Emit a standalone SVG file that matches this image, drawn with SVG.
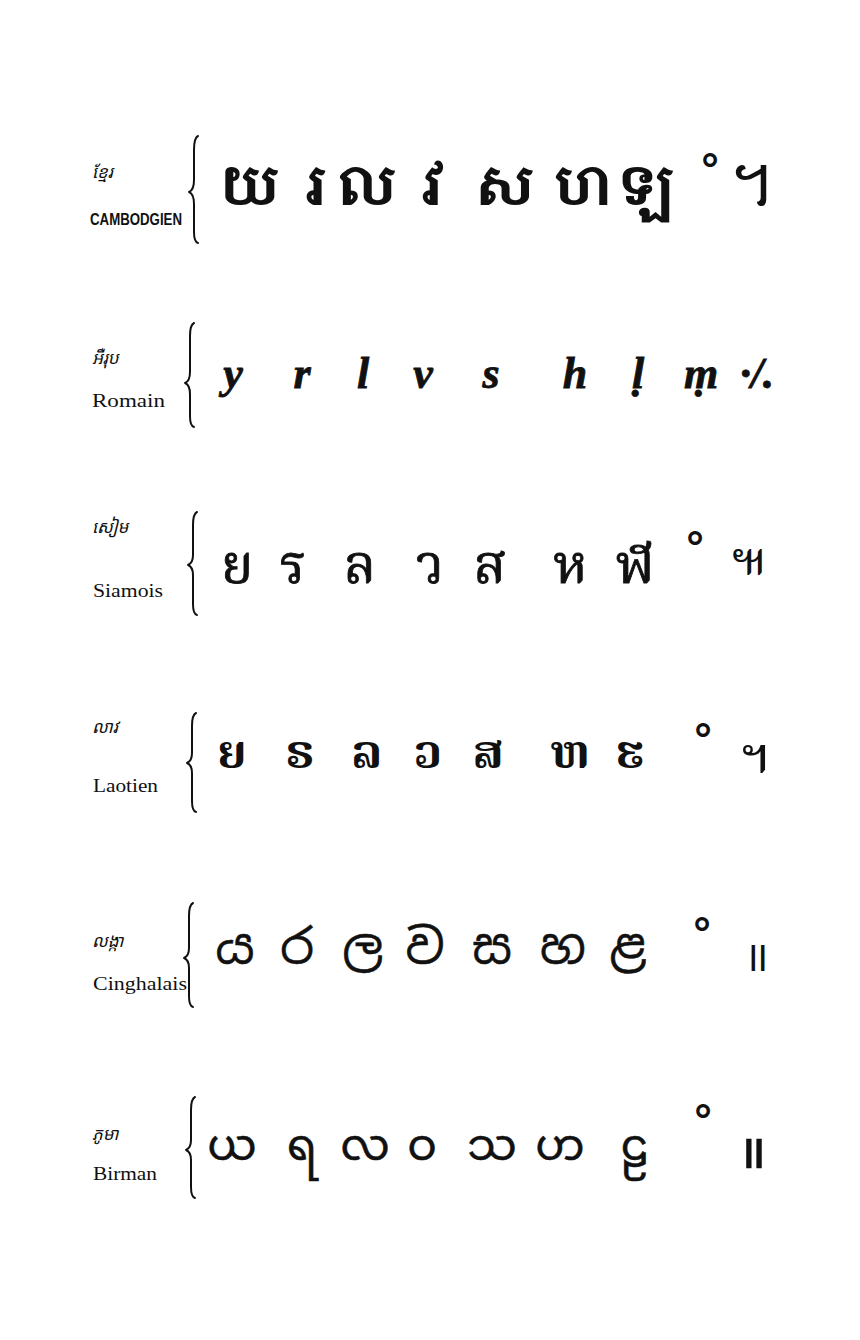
<svg xmlns="http://www.w3.org/2000/svg" width="860" height="1340" viewBox="0 0 860 1340">
<style>
.bg{fill:#ffffff}
.br{fill:none;stroke:#111;stroke-width:2;stroke-linecap:round;stroke-linejoin:round}
.lk{font-family:"Noto Sans Khmer","Noto Sans","DejaVu Sans",sans-serif;font-size:17px;fill:#111;font-style:italic}
.ln{font-family:"Liberation Serif",serif;font-size:19px;fill:#111}
.cap{font-family:"Liberation Sans Narrow","Liberation Sans",sans-serif;font-size:16px;fill:#111;font-weight:bold}
.kh{font-family:"Noto Serif Khmer","Noto Sans Khmer","Noto Sans","DejaVu Sans",sans-serif;font-size:56px;fill:#111;text-anchor:middle;font-weight:bold}
.ro{font-family:"Liberation Serif",serif;font-size:44px;font-style:italic;font-weight:bold;fill:#111;stroke:#111;stroke-width:0.8;text-anchor:middle}
.th{font-family:"Noto Serif Thai","Noto Sans Thai Looped","Noto Sans Thai","Noto Sans",sans-serif;font-size:54px;fill:#111;stroke:#111;stroke-width:0.8;text-anchor:middle}
.lo{font-family:"Noto Serif Lao","Noto Sans Lao Looped","Noto Sans Lao","DejaVu Sans",sans-serif;font-size:46px;fill:#111;text-anchor:middle;font-weight:bold}
.si{font-family:"Noto Sans Sinhala","Noto Serif Sinhala","Noto Sans","DejaVu Sans",sans-serif;font-size:48px;fill:#111;stroke:#111;stroke-width:0.5;text-anchor:middle}
.my{font-family:"Noto Sans Myanmar","Noto Serif Myanmar","Padauk","Noto Sans","DejaVu Sans",sans-serif;font-size:44px;fill:#111;stroke:#111;stroke-width:0.5;text-anchor:middle}
.dg{font-family:"Liberation Sans",sans-serif;font-size:44px;font-weight:bold;fill:#111;text-anchor:middle}
.pd{font-family:"Noto Sans","DejaVu Sans",sans-serif;font-size:42px;fill:#111;text-anchor:middle}
</style>
<rect class="bg" x="0" y="0" width="860" height="1340"/>

<g id="row-cambodgien">
<text class="lk" x="92" y="178">ខ្មែរ</text>
<text class="cap" x="90" y="225" textLength="92" lengthAdjust="spacingAndGlyphs">CAMBODGIEN</text>
<path class="br" d="M198,136 Q194,138 194,150 L194,180 Q194,190 189,192 Q194,194 194,204 L194,232 Q194,242 198,243"/>
<text class="kh" x="250" y="205">យ</text>
<text class="kh" x="315" y="205">រ</text>
<text class="kh" x="367" y="205">ល</text>
<text class="kh" x="432" y="205">វ</text>
<text class="kh" x="505" y="205">ស</text>
<text class="kh" x="583" y="205">ហ</text>
<text class="kh" x="648" y="205">ឡ</text>
<text class="dg" x="710" y="184">°</text>
<text class="kh" x="751" y="206" style="font-weight:normal;font-size:60px">។</text>
</g>

<g id="row-romain">
<text class="lk" x="92" y="364">អឺរុប</text>
<text class="ln" x="92" y="407" textLength="73" lengthAdjust="spacingAndGlyphs">Romain</text>
<path class="br" d="M194,323 Q190,325 190,336 L190,372 Q190,381 185,383 Q190,385 190,394 L190,416 Q190,426 194,427"/>
<text class="ro" x="233" y="388">y</text>
<text class="ro" x="302" y="388">r</text>
<text class="ro" x="363" y="388">l</text>
<text class="ro" x="423" y="388">v</text>
<text class="ro" x="491" y="388">s</text>
<text class="ro" x="575" y="388">h</text>
<text class="ro" x="638" y="388">ḷ</text>
<text class="ro" x="701" y="388">ṃ</text>
<text class="ro" x="757" y="388">·/.</text>
</g>

<g id="row-siamois">
<text class="lk" x="92" y="533">សៀម</text>
<text class="ln" x="93" y="597" textLength="70" lengthAdjust="spacingAndGlyphs">Siamois</text>
<path class="br" d="M197,512 Q193,514 193,525 L193,555 Q193,563 188,565 Q193,567 193,575 L193,604 Q193,614 197,615"/>
<text class="th" x="237" y="583">ย</text>
<text class="th" x="293" y="583">ร</text>
<text class="th" x="360" y="583">ล</text>
<text class="th" x="430" y="583">ว</text>
<text class="th" x="490" y="583">ส</text>
<text class="th" x="570" y="583">ห</text>
<text class="th" x="635" y="583">ฬ</text>
<text class="dg" x="695" y="562">°</text>
<text class="th" x="749" y="575" style="font-size:46px;stroke-width:0">๚</text>
</g>

<g id="row-laotien">
<text class="lk" x="92" y="733">លាវ</text>
<text class="ln" x="93" y="792" textLength="65" lengthAdjust="spacingAndGlyphs">Laotien</text>
<path class="br" d="M196,713 Q192,715 192,726 L192,753 Q192,761 187,763 Q192,765 192,773 L192,801 Q192,811 196,812"/>
<text class="lo" x="232" y="768">ຍ</text>
<text class="lo" x="300" y="768">ຣ</text>
<text class="lo" x="367" y="768">ລ</text>
<text class="lo" x="428" y="768">ວ</text>
<text class="lo" x="488" y="768">ສ</text>
<text class="lo" x="570" y="768">ຫ</text>
<text class="lo" x="630" y="768">ຬ</text>
<text class="dg" x="703" y="754">°</text>
<text class="lo" x="755" y="773" style="font-weight:normal;font-size:50px">ຯ</text>
</g>

<g id="row-cinghalais">
<text class="lk" x="92" y="947">លង្កា</text>
<text class="ln" x="93" y="990" textLength="94" lengthAdjust="spacingAndGlyphs">Cinghalais</text>
<path class="br" d="M193,903 Q189,905 189,916 L189,948 Q189,956 184,958 Q189,960 189,968 L189,996 Q189,1006 193,1007"/>
<text class="si" x="235" y="963">ය</text>
<text class="si" x="297" y="963">ර</text>
<text class="si" x="363" y="963">ල</text>
<text class="si" x="425" y="963">ව</text>
<text class="si" x="492" y="963">ස</text>
<text class="si" x="563" y="963">හ</text>
<text class="si" x="628" y="963">ළ</text>
<text class="dg" x="702" y="948">°</text>
<text class="pd" x="756" y="971">॥</text>
</g>

<g id="row-birman">
<text class="lk" x="92" y="1140">ភូមា</text>
<text class="ln" x="93" y="1180" textLength="64" lengthAdjust="spacingAndGlyphs">Birman</text>
<path class="br" d="M195,1097 Q191,1099 191,1110 L191,1140 Q191,1148 186,1150 Q191,1152 191,1160 L191,1187 Q191,1197 195,1198"/>
<text class="my" x="232" y="1160">ယ</text>
<text class="my" x="302" y="1160">ရ</text>
<text class="my" x="365" y="1160">လ</text>
<text class="my" x="422" y="1160">ဝ</text>
<text class="my" x="492" y="1160">သ</text>
<text class="my" x="560" y="1160">ဟ</text>
<text class="my" x="635" y="1160">ဠ</text>
<text class="dg" x="703" y="1135">°</text>
<text class="my" x="754" y="1168" style="font-size:54px">။</text>
</g>
</svg>
